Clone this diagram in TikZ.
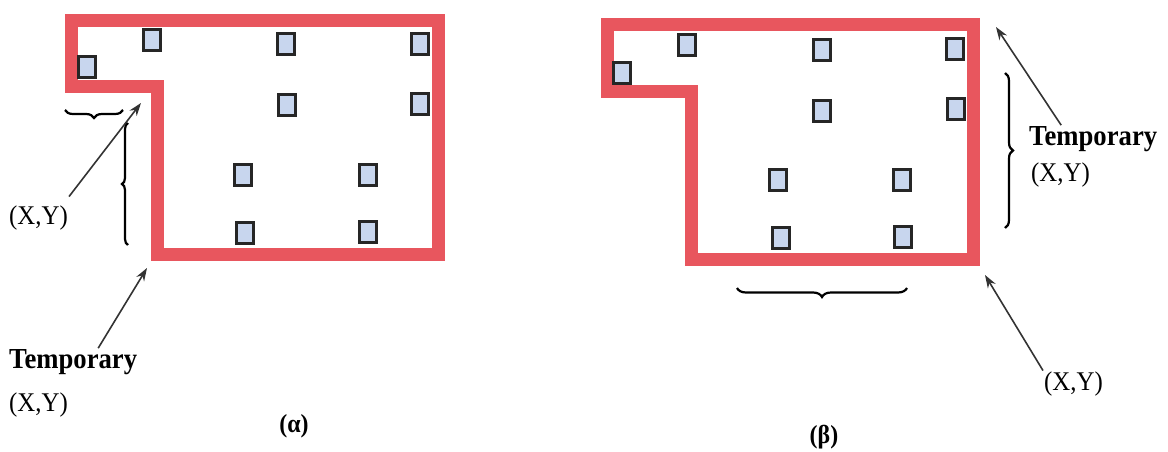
\documentclass[tikz,border=0pt]{standalone}
\usepackage{fontspec}
\setmainfont{Liberation Serif}[FakeStretch=0.92]
\usetikzlibrary{arrows.meta,decorations.pathreplacing}
\definecolor{wallred}{RGB}{232,86,94}
\definecolor{seatblue}{RGB}{200,214,238}
\tikzset{
  wall/.style={draw=wallred, line width=13pt, line join=miter},
  seat/.style={draw=black!85, fill=seatblue, line width=2.4pt, minimum width=17pt, minimum height=21pt, inner sep=0pt},
  pointer/.style={-{Stealth[length=13pt,width=9pt]}, line width=1.6pt, draw=black!80},
  curly/.style={decorate, decoration={brace, amplitude=#1}, line width=2.2pt},
  lbl/.style={font=\fontsize{27}{29}\selectfont, inner sep=1pt},
  tmplbl/.style={font=\fontsize{29}{31}\selectfont\bfseries, inner sep=1pt},
  caplbl/.style={font=\fontsize{26}{28}\selectfont\bfseries, inner sep=1pt},
}
\begin{document}
\begin{tikzpicture}[x=1pt, y=-1pt]
    \useasboundingbox (0,0) rectangle (1168,452);
    % (alpha)
    \draw[wall] (71,21) -- (438,21) -- (438,254) -- (157,254) -- (157,87) -- (71,87) -- cycle;
    \foreach \n/\px/\py in {1/87/67, 2/152/40, 3/286/44, 4/420/44, 5/287/105,
        6/420/104, 7/243/175, 8/368/175, 9/245/233, 10/368/232}
        \node[seat] (sA\n) at (\px,\py) {};
    \coordinate (stepA) at (141,103);
    \coordinate (cornerA) at (147,268);
    \draw[curly=8] (123,110) -- (65,110);
    \draw[curly=6] (128,245) -- (128,123);
    \node[lbl, anchor=west] (xyA) at (8,218) {(X,Y)};
    \node[tmplbl, anchor=west] (tmpA) at (8,362) {Temporary};
    \node[lbl, anchor=west] (xyB) at (8,405) {(X,Y)};
    \node[caplbl] (capA) at (294,426) {(α)};
    \draw[pointer] ([yshift=8pt]xyA.north east) -- (stepA);
    \draw[pointer] ([xshift=25pt]tmpA.north) -- (cornerA);
    % (beta)
    \draw[wall] (607,25) -- (973,25) -- (973,259) -- (691,259) -- (691,92) -- (607,92) -- cycle;
    \foreach \n/\px/\py in {1/622/73, 2/687/45, 3/822/50, 4/955/49, 5/822/111,
        6/956/109, 7/778/180, 8/902/180, 9/781/238, 10/903/237}
        \node[seat] (sB\n) at (\px,\py) {};
    \coordinate (cornerB) at (996,27);
    \coordinate (cornerC) at (985,275);
    \draw[curly=9] (907,288) -- (737,288);
    \draw[curly=8] (1005,73) -- (1005,228);
    \node[tmplbl, anchor=west] (tmpB) at (1028,139) {Temporary};
    \node[lbl, anchor=west] (xyC) at (1030,175) {(X,Y)};
    \node[lbl, anchor=west] (xyD) at (1043,384) {(X,Y)};
    \node[caplbl] (capB) at (824,437) {(β)};
    \draw[pointer] ([xshift=-32pt]tmpB.north) -- (cornerB);
    \draw[pointer] (xyD.north west) -- (cornerC);
\end{tikzpicture}
\end{document}
